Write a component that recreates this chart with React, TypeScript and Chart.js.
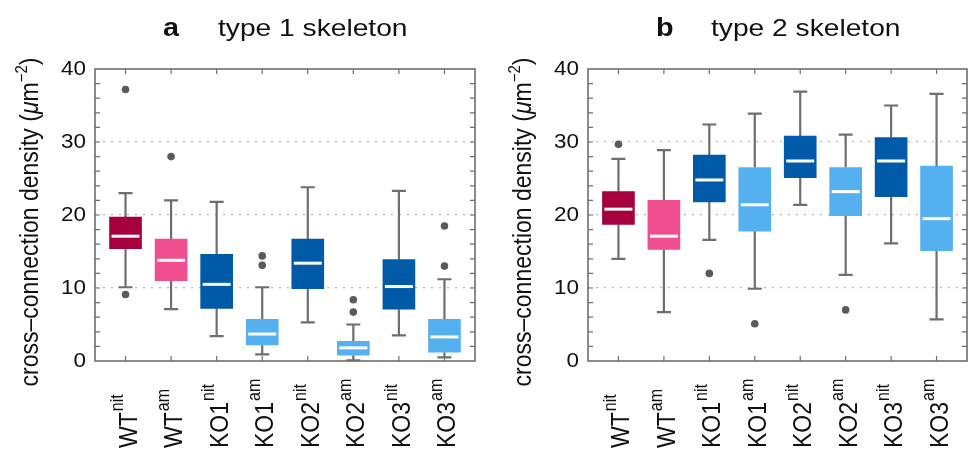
import React, { useEffect, useRef } from 'react';
import { Chart, registerables } from 'chart.js';
Chart.register(...registerables);

// ---------- data ----------
const groups = ['WT', 'WT', 'KO1', 'KO1', 'KO2', 'KO2', 'KO3', 'KO3'];
const conditions = ['nit', 'am', 'nit', 'am', 'nit', 'am', 'nit', 'am'];
const boxColors = ['#a6003f', '#ef4f8f', '#005aa8', '#55b0f0', '#005aa8', '#55b0f0', '#005aa8', '#55b0f0'];
const yTickValues = [0, 10, 20, 30, 40];

// panel a: type 1 skeleton
const aMin = [10.1, 7.1, 3.4, 0.9, 5.3, 0.1, 3.5, 0.5];
const aQ1 = [15.4, 11.0, 7.2, 2.2, 9.9, 0.8, 7.1, 1.2];
const aMedian = [17.1, 13.8, 10.5, 3.7, 13.4, 1.8, 10.2, 3.3];
const aQ3 = [19.7, 16.7, 14.6, 5.7, 16.7, 2.7, 13.9, 5.7];
const aMax = [23.0, 22.0, 21.8, 10.1, 23.8, 5.0, 23.3, 11.2];
const aOutliers = [[37.2, 9.1], [28.0], [], [14.4, 13.1], [], [8.4, 6.7], [], [18.5, 13.0]];

// panel b: type 2 skeleton
const bMin = [14.0, 6.7, 16.6, 9.9, 21.4, 11.8, 16.1, 5.7];
const bQ1 = [18.7, 15.3, 21.8, 17.8, 25.1, 19.9, 22.5, 15.1];
const bMedian = [20.8, 17.1, 24.8, 21.4, 27.4, 23.2, 27.4, 19.5];
const bQ3 = [23.2, 22.0, 28.2, 26.5, 30.8, 26.5, 30.6, 26.7];
const bMax = [27.7, 28.9, 32.4, 33.9, 36.9, 31.0, 35.0, 36.6];
const bOutliers = [[29.7], [], [12.0], [5.1], [], [7.0], [], []];

// ---------- style ----------
const FONT = '"Liberation Sans", Arial, Helvetica, sans-serif';
const SX = 1.15; // horizontal stretch of horizontal text
const SXR = 1.1; // stretch of rotated text
const AXIS = '#6e6e6e';
const TEXT = '#111111';

type Panel = {
  letter: string;
  title: string;
  min: number[]; q1: number[]; median: number[]; q3: number[]; max: number[];
  outliers: number[][];
};

function drawText(ctx: CanvasRenderingContext2D, text: string, x: number, y: number, font: string, align: CanvasTextAlign, baseline: CanvasTextBaseline, sx: number) {
  ctx.save();
  ctx.translate(x, y);
  ctx.scale(sx, 1);
  ctx.font = font;
  ctx.textAlign = align;
  ctx.textBaseline = baseline;
  ctx.fillStyle = TEXT;
  ctx.fillText(text, 0, 0);
  ctx.restore();
}

function makePlugin(panel: Panel) {
  return {
    id: 'boxplot',
    beforeDatasetsDraw(chart: any) {
      const ctx: CanvasRenderingContext2D = chart.ctx;
      const xs = chart.scales.x, ys = chart.scales.y;
      ctx.save();
      ctx.strokeStyle = AXIS;
      ctx.lineWidth = 2.2;
      for (let i = 0; i < groups.length; i++) {
        const x = xs.getPixelForValue(i + 1);
        const yMin = ys.getPixelForValue(panel.min[i]);
        const yQ1 = ys.getPixelForValue(panel.q1[i]);
        const yQ3 = ys.getPixelForValue(panel.q3[i]);
        const yMax = ys.getPixelForValue(panel.max[i]);
        ctx.beginPath();
        ctx.moveTo(x, yMax); ctx.lineTo(x, yQ3);
        ctx.moveTo(x, yQ1); ctx.lineTo(x, yMin);
        ctx.moveTo(x - 7, yMax); ctx.lineTo(x + 7, yMax);
        ctx.moveTo(x - 7, yMin); ctx.lineTo(x + 7, yMin);
        ctx.stroke();
      }
      ctx.restore();
    },
    afterDatasetsDraw(chart: any) {
      const ctx: CanvasRenderingContext2D = chart.ctx;
      const xs = chart.scales.x, ys = chart.scales.y;
      ctx.save();
      ctx.strokeStyle = '#ffffff';
      ctx.lineWidth = 3;
      for (let i = 0; i < groups.length; i++) {
        const x = xs.getPixelForValue(i + 1);
        const y = ys.getPixelForValue(panel.median[i]);
        ctx.beginPath();
        ctx.moveTo(x - 14, y); ctx.lineTo(x + 14, y);
        ctx.stroke();
      }
      ctx.restore();
    },
    afterDraw(chart: any) {
      const ctx: CanvasRenderingContext2D = chart.ctx;
      const xs = chart.scales.x, ys = chart.scales.y;
      const a = chart.chartArea;
      ctx.save();
      // frame
      ctx.strokeStyle = AXIS;
      ctx.lineWidth = 1.6;
      ctx.strokeRect(a.left, a.top, a.right - a.left, a.bottom - a.top);
      // inward ticks
      ctx.lineWidth = 1.2;
      ctx.beginPath();
      for (let v = 2; v < 40; v += 2) {
        const y = ys.getPixelForValue(v);
        ctx.moveTo(a.left, y); ctx.lineTo(a.left + 5, y);
        ctx.moveTo(a.right, y); ctx.lineTo(a.right - 5, y);
      }
      for (let i = 0; i < groups.length; i++) {
        const x = xs.getPixelForValue(i + 1);
        ctx.moveTo(x, a.bottom); ctx.lineTo(x, a.bottom - 5);
        ctx.moveTo(x, a.top); ctx.lineTo(x, a.top + 5);
      }
      ctx.stroke();
      ctx.restore();

      // y tick labels
      for (const v of yTickValues) {
        drawText(ctx, String(v), a.left - 9, ys.getPixelForValue(v) + 1, `19.5px ${FONT}`, 'right', 'middle', SX);
      }

      // x labels (rotated, with superscript)
      for (let i = 0; i < groups.length; i++) {
        const cx = xs.getPixelForValue(i + 1);
        ctx.save();
        ctx.translate(cx + 11, 448);
        ctx.scale(SXR, 1);
        ctx.rotate(-Math.PI / 2);
        ctx.fillStyle = TEXT;
        ctx.textAlign = 'left';
        ctx.textBaseline = 'alphabetic';
        ctx.font = `23px ${FONT}`;
        ctx.fillText(groups[i], 0, 0);
        const w = ctx.measureText(groups[i]).width;
        ctx.font = `16px ${FONT}`;
        ctx.fillText(conditions[i], w + 1, -12);
        ctx.restore();
      }

      // y axis title
      ctx.save();
      ctx.translate(a.left - 57, 222);
      ctx.scale(SXR, 1);
      ctx.rotate(-Math.PI / 2);
      ctx.fillStyle = TEXT;
      ctx.textAlign = 'left';
      ctx.textBaseline = 'alphabetic';
      const parts: [string, string, number][] = [
        ['cross\u2013connection density (', `23px ${FONT}`, 0],
        ['\u03bc', `italic 23px ${FONT}`, 0],
        ['m', `23px ${FONT}`, 0],
        ['\u22122', `15px ${FONT}`, -10],
        [')', `23px ${FONT}`, 0],
      ];
      let total = 0;
      for (const [t, f] of parts) { ctx.font = f; total += ctx.measureText(t).width; }
      let px = -total / 2;
      for (const [t, f, dy] of parts) {
        ctx.font = f;
        ctx.fillText(t, px, dy);
        px += ctx.measureText(t).width;
      }
      ctx.restore();

      // panel title
      drawText(ctx, panel.letter, a.left + 68, 36, `bold 25px ${FONT}`, 'left', 'alphabetic', SX);
      drawText(ctx, panel.title, a.left + 123, 36, `24.5px ${FONT}`, 'left', 'alphabetic', SX);
    },
  };
}

function BoxChart({ panel, width, yAxisWidth, padRight }: { panel: Panel; width: number; yAxisWidth: number; padRight: number }) {
  const ref = useRef<HTMLCanvasElement>(null);
  useEffect(() => {
    if (!ref.current) return;
    const boxes = groups.map((_, i) => ({ x: i + 1, y: [panel.q1[i], panel.q3[i]] }));
    const outs: { x: number; y: number }[] = [];
    panel.outliers.forEach((arr, i) => arr.forEach((v) => outs.push({ x: i + 1, y: v })));
    const chart = new Chart(ref.current, {
      type: 'bar',
      data: {
        datasets: [
          {
            type: 'bar',
            data: boxes as any,
            backgroundColor: boxColors,
            borderWidth: 0,
            barThickness: 32,
            grouped: false,
          } as any,
          {
            type: 'scatter',
            data: outs,
            pointRadius: 3.8,
            pointBackgroundColor: '#5a5a5a',
            pointBorderWidth: 0,
            backgroundColor: '#5a5a5a',
          } as any,
        ],
      },
      options: {
        animation: false,
        responsive: false,
        maintainAspectRatio: false,
        layout: { padding: { top: 69, right: padRight, left: 0, bottom: 0 } },
        plugins: { legend: { display: false }, tooltip: { enabled: false }, title: { display: false } },
        scales: {
          x: {
            type: 'linear',
            min: 0.33,
            max: 8.67,
            offset: false,
            ticks: { display: false },
            grid: { display: false },
            border: { display: false },
            afterFit: (s: any) => { s.height = 89; },
          },
          y: {
            min: 0,
            max: 40,
            ticks: { display: false, stepSize: 10 },
            grid: {
              drawTicks: false,
              lineWidth: 1.3,
              color: (c: any) => (c.tick && c.tick.value > 0 && c.tick.value < 40 ? '#b8b8b8' : 'rgba(0,0,0,0)'),
            },
            border: { display: false, dash: [2, 6] },
            afterFit: (s: any) => { s.width = yAxisWidth; },
          },
        },
      } as any,
      plugins: [makePlugin(panel)],
    });
    return () => chart.destroy();
  }, [panel, yAxisWidth, padRight]);
  return <canvas ref={ref} width={width} height={450} style={{ width, height: 450, display: 'block' }} />;
}

const panelA: Panel = { letter: 'a', title: 'type 1 skeleton', min: aMin, q1: aQ1, median: aMedian, q3: aQ3, max: aMax, outliers: aOutliers };
const panelB: Panel = { letter: 'b', title: 'type 2 skeleton', min: bMin, q1: bQ1, median: bMedian, q3: bQ3, max: bMax, outliers: bOutliers };

export default function App() {
  return (
    <div style={{ position: 'absolute', left: 0, top: 0, width: 971, height: 450, background: '#ffffff', overflow: 'hidden' }}>
      <div style={{ position: 'absolute', left: 0, top: 0 }}>
        <BoxChart panel={panelA} width={485} yAxisWidth={95} padRight={10} />
      </div>
      <div style={{ position: 'absolute', left: 485, top: 0 }}>
        <BoxChart panel={panelB} width={486} yAxisWidth={103} padRight={3} />
      </div>
    </div>
  );
}
